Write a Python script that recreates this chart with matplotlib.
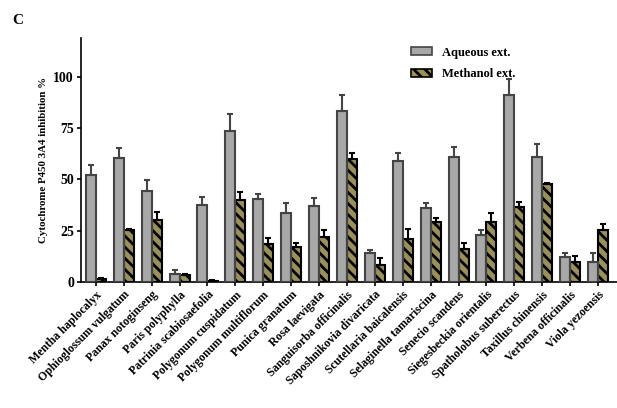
import matplotlib
matplotlib.use("Agg")
import matplotlib.pyplot as plt
import numpy as np
from matplotlib.patches import Patch
from matplotlib.legend_handler import HandlerTuple

species = ["Mentha haplocalyx", "Ophioglossum vulgatum", "Panax notoginseng",
           "Paris polyphylla", "Patrinia scabiosaefolia", "Polygonum cuspidatum",
           "Polygonum multiflorum", "Punica granatum", "Rosa laevigata",
           "Sanguisorba officinalis", "Saposhnikovia divaricata", "Scutellaria baicalensis",
           "Selaginella tamariscina", "Senecio scandens", "Siegesbeckia orientalis",
           "Spatholobus suberectus", "Taxillus chinensis", "Verbena officinalis",
           "Viola yezoensis"]
aqueous = [52, 60.6, 44.5, 3.9, 37.7, 73.7, 40.5, 33.5, 37.2, 83.6, 14, 59.2,
           36.2, 60.8, 22.8, 91.4, 61.1, 12, 9.6]
aqueous_err = [4.8, 4.9, 5.3, 2.0, 3.9, 8.4, 2.3, 4.9, 3.9, 7.8, 1.6, 3.9,
               2.2, 4.9, 2.6, 7.5, 6.1, 2.0, 4.4]
methanol = [1.5, 25.4, 30.2, 3.4, 0.6, 39.9, 18.4, 16.9, 22, 59.8, 8.3, 21,
            29.3, 16.1, 29.3, 36.4, 47.6, 9.6, 25.4]
methanol_err = [0.3, 0.4, 3.8, 0.6, 0.2, 4.1, 3.2, 2.0, 3.4, 3.3, 3.3, 4.7,
                1.8, 2.8, 4.2, 2.5, 0.8, 3.2, 2.7]
yticks = [0, 25, 50, 75, 100]

plt.rcParams['font.family'] = ['Liberation Serif', 'DejaVu Serif']
plt.rcParams['font.weight'] = 'bold'
plt.rcParams['hatch.linewidth'] = 2.0

fig = plt.figure(figsize=(6.17, 4.08), dpi=100)
ax = fig.add_axes([0.131, 0.309, 0.869, 0.598])

x = np.arange(len(species))
w = 0.36
aq_face = '#8c8c8c'
aq_hatch = '#a8a8a8'
aq_edge = '#444444'
me_face = '#9a905c'

# aqueous bars: fine texture + dark outline
ax.bar(x - w/2, aqueous, w, color=aq_face, edgecolor=aq_hatch, hatch='++++++', linewidth=0, zorder=2)
ax.bar(x - w/2, aqueous, w, fill=False, edgecolor=aq_edge, linewidth=1.5, zorder=3)
ax.errorbar(x - w/2, aqueous, yerr=[np.zeros(len(aqueous)), aqueous_err], fmt='none',
            ecolor=aq_edge, elinewidth=1.5, capsize=2.5, capthick=1.5, zorder=4)

ax.bar(x + w/2, methanol, w, color=me_face, edgecolor='black', hatch='\\\\\\', linewidth=1.5, zorder=2)
ax.errorbar(x + w/2, methanol, yerr=[np.zeros(len(methanol)), methanol_err], fmt='none',
            ecolor='black', elinewidth=1.5, capsize=2.5, capthick=1.5, zorder=4)

ax.set_xlim(-0.54, len(species) - 1 + 0.68)
ax.set_ylim(0, 119)
ax.set_yticks(yticks)
ax.set_yticklabels([str(t) for t in yticks], fontsize=10, fontweight='bold')
ax.set_xticks(x)
ax.set_xticklabels(species, rotation=45, ha='right', rotation_mode='anchor',
                   fontsize=8.5, fontweight='bold')
ax.tick_params(axis='both', direction='out', length=3, width=1.2, pad=2)
ax.spines['top'].set_visible(False)
ax.spines['right'].set_visible(False)
ax.spines['left'].set_linewidth(1.2)
ax.spines['bottom'].set_linewidth(1.2)
ax.set_ylabel('Cytochrome P450 3A4 inhibition %', fontsize=7.8, fontweight='bold', labelpad=4)

aq_handle = (Patch(facecolor=aq_face, edgecolor=aq_hatch, hatch='++++++', linewidth=0),
             Patch(fill=False, edgecolor=aq_edge, linewidth=1.2))
me_handle = Patch(facecolor=me_face, edgecolor='black', hatch='\\\\\\', linewidth=1.2)
ax.legend([aq_handle, me_handle], ['Aqueous ext.', 'Methanol ext.'], loc='upper left',
          handler_map={tuple: HandlerTuple(ndivide=1, pad=0)},
          bbox_to_anchor=(0.595, 1.01), frameon=False, fontsize=9,
          handlelength=1.7, handleheight=0.6, handletextpad=0.8, labelspacing=0.75)

fig.text(0.02, 0.965, 'C', fontsize=11, fontweight='bold', va='top')

fig.savefig('out.png', dpi=100)
